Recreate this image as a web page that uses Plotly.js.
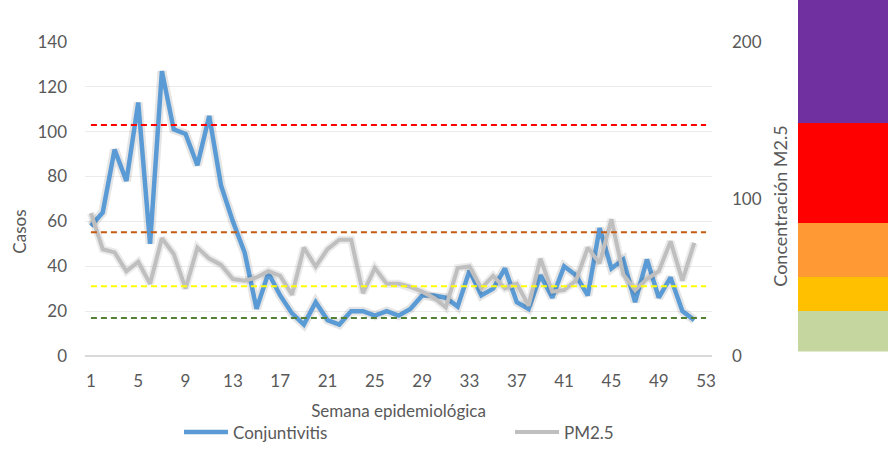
<!DOCTYPE html>
<html>
<head>
<meta charset="utf-8">
<script src="https://cdn.plot.ly/plotly-3.0.1.min.js"></script>
<style>html,body{margin:0;padding:0;background:#fff;}#chart{width:895px;height:455px;}</style>
</head>
<body>
<div id="chart"></div>
<script>
// Semana epidemiológica 1..52
const weeks = [1,2,3,4,5,6,7,8,9,10,11,12,13,14,15,16,17,18,19,20,21,22,23,24,25,26,27,28,29,30,31,32,33,34,35,36,37,38,39,40,41,42,43,44,45,46,47,48,49,50,51,52];
// Casos de conjuntivitis (eje izquierdo)
const conjuntivitis = [58,64,92,78,113,50,127,101,99,85,107,76,60,46,21,37,27,19,14,24,16,14,20,20,18,20,18,21,27,27,26,22,38,27,30,39,24,21,36,26,40,36,27,57,39,43,24,43,26,35,20,16];
// Concentración PM2.5 (eje derecho)
const pm25 = [91,68,66,54,60,46,75,65,43,69,62,58,49,48,50,54,51,39,69,57,68,74,74,40,56,46,46,44,41,37,31,56,57,43,51,43,46,32,62,41,42,48,69,59,87,52,42,49,54,73,48,72];
// Umbrales (líneas punteadas, en escala de casos)
const thresholdValues = [103, 55.2, 31.1, 16.9];
const thresholdColors = ['#FF0000', '#C55A11', '#FFFF00', '#548235'];
// Barra de colores de calidad del aire (de abajo hacia arriba)
const bandNames = ['Buena', 'Moderada', 'Dañina grupos sensibles', 'Dañina', 'Muy dañina'];
const bandSizes = [41, 34, 54, 100, 123];
const bandColors = ['#C5D69F', '#FFC000', '#FF9933', '#FF0000', '#7030A0'];
const xTicks = [1,5,9,13,17,21,25,29,33,37,41,45,49,53];

const font = 'Lato, "Open Sans", sans-serif';
const grey = '#595959';

const traces = [];
traces.push({x: weeks, y: conjuntivitis, type:'scatter', mode:'lines', line:{color:'rgba(0,0,0,0.10)', width:9}, hoverinfo:'skip', showlegend:false, xaxis:'x', yaxis:'y'});
traces.push({x: weeks, y: pm25, type:'scatter', mode:'lines', line:{color:'rgba(0,0,0,0.08)', width:8}, hoverinfo:'skip', showlegend:false, xaxis:'x', yaxis:'y2'});
traces.push({x: weeks, y: conjuntivitis, name:'Conjuntivitis', type:'scatter', mode:'lines', line:{color:'#5B9BD5', width:4.5}, xaxis:'x', yaxis:'y', legend:'legend'});
traces.push({x: weeks, y: pm25, name:'PM2.5', type:'scatter', mode:'lines', line:{color:'#BFBFBF', width:4}, xaxis:'x', yaxis:'y2', legend:'legend2'});
bandSizes.forEach((v,i)=>{
  traces.push({x:[0], y:[v], name:bandNames[i], type:'bar', marker:{color:bandColors[i], line:{width:0}}, xaxis:'x3', yaxis:'y3', showlegend:false, hoverinfo:'skip', width:1});
});

const shapes = thresholdValues.map((v,i)=>({type:'line', xref:'x', yref:'y', x0:1, x1:53, y0:v, y1:v, line:{color:thresholdColors[i], width:2, dash:'6px,4px'}, layer:'above'}));

const W = 803, H = 356.5;
const layout = {
  width:895, height:455,
  margin:{l:85, r:7, t:0, b:98.5},
  paper_bgcolor:'#fff', plot_bgcolor:'rgba(0,0,0,0)',
  font:{family:font, size:17, color:grey},
  barmode:'stack', bargap:0,
  showlegend:true,
  xaxis:{domain:[0, 627/W], range:[0.5,53.5], tickvals:xTicks, ticktext:xTicks.map(String), showgrid:false, zeroline:false, showline:false, ticks:'', ticklabelstandoff:13, tickfont:{size:17, color:grey},
    title:{text:'Semana epidemiológica', font:{size:17, color:grey}, standoff:15}},
  yaxis:{domain:[0, (356.5-42)/H], range:[0,140], dtick:20, showgrid:true, gridcolor:'#EBEBEB', gridwidth:1, zeroline:true, zerolinecolor:'#D9D9D9', zerolinewidth:1.5, ticks:'', ticklabelstandoff:17, tickfont:{size:17, color:grey}, anchor:'x'},
  yaxis2:{overlaying:'y', side:'right', anchor:'x', range:[0,200], dtick:100, showgrid:false, zeroline:false, ticks:'', ticklabelstandoff:19, tickfont:{size:17, color:grey}},
  xaxis3:{domain:[(797.7-85)/W, 1], range:[-0.5,0.5], visible:false, fixedrange:true, anchor:'y3'},
  yaxis3:{domain:[(356.5-352)/H, 1], range:[0,352], visible:false, fixedrange:true, anchor:'x3'},
  legend:{orientation:'h', x:(179-85)/W, xanchor:'left', y:(H-433)/H, yanchor:'middle', font:{size:17, color:grey}, itemwidth:44, bgcolor:'rgba(0,0,0,0)'},
  legend2:{orientation:'h', x:(510-85)/W, xanchor:'left', y:(H-433)/H, yanchor:'middle', font:{size:17, color:grey}, itemwidth:44, bgcolor:'rgba(0,0,0,0)'},
  shapes:shapes,
  annotations:[
    {text:'Casos', xref:'paper', yref:'paper', x:(20-85)/W, y:(H-232)/H, showarrow:false, textangle:-90, font:{size:17, color:grey}, xanchor:'center', yanchor:'middle'},
    {text:'Concentración M2.5', xref:'paper', yref:'paper', x:(780-85)/W, y:(H-207)/H, showarrow:false, textangle:-90, font:{size:18, color:grey}, xanchor:'center', yanchor:'middle'}
  ]
};
Plotly.newPlot('chart', traces, layout, {displayModeBar:false, staticPlot:true});
</script>
</body>
</html>
